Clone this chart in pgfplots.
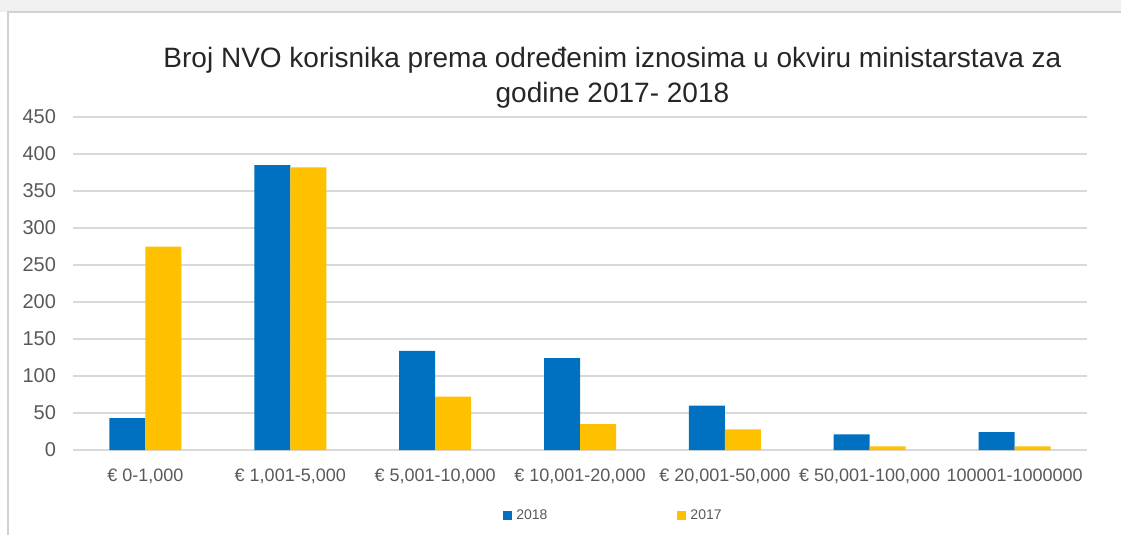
\documentclass[border=0pt]{standalone}
\usepackage{fontspec}
\setmainfont{Liberation Sans}
\usepackage{pgfplots}
\pgfplotsset{compat=1.18}
\definecolor{xlblue}{HTML}{0070C0}
\definecolor{xlgold}{HTML}{FFC000}
\definecolor{xltext}{HTML}{595959}
\definecolor{xlgrid}{HTML}{D9D9D9}
\begin{document}
\begin{tikzpicture}
\begin{axis}[
  name=ax,
  scale only axis,
  width=507pt, height=166.5pt,
  ybar=0pt, bar width=18pt,
  xmin=-0.5, xmax=6.5,
  ymin=0, ymax=450,
  ytick={0,50,...,450},
  xtick={0,...,6},
  xticklabels={{€ 0-1,000},{€ 1,001-5,000},{€ 5,001-10,000},{€ 10,001-20,000},{€ 20,001-50,000},{€ 50,001-100,000},{100001-1000000}},
  ymajorgrids, grid style={xlgrid,line width=0.8pt},
  axis line style={draw=none},
  major tick length=0pt,
  /pgf/number format/assume math mode=true,
  y tick label style={font=\fontsize{10}{12}\selectfont,text=xltext,xshift=-5pt},
  x tick label style={font=\fontsize{9}{11}\selectfont,text=xltext,yshift=-6pt},
  title={Broj NVO korisnika prema određenim iznosima u okviru ministarstava za\\godine 2017- 2018},
  title style={font=\fontsize{14}{17.5}\selectfont,text=black!85,align=center,at={(rel axis cs:0.532,1)},anchor=south,yshift=-5pt},
  legend columns=2,
  legend style={draw=none,fill=none,font=\fontsize{7}{8}\selectfont,text=xltext,at={(0.534,-0.198)},anchor=center,
    /tikz/every even column/.append style={column sep=63pt}},
  legend image code/.code={\fill[#1] (0pt,-2.2pt) rectangle (4.5pt,2.5pt);},
]
\addplot[fill=xlblue,draw=none] coordinates {(0,43) (1,385) (2,134) (3,124) (4,60) (5,21) (6,24)};
\addlegendentry{2018}
\addplot[fill=xlgold,draw=none] coordinates {(0,275) (1,382) (2,72) (3,35) (4,28) (5,5) (6,5)};
\addlegendentry{2017}
\end{axis}
\pgfresetboundingbox
\path (ax.south west) ++(-36.5pt,-42.5pt) coordinate (bl);
\path (ax.north east) ++(17pt,58.5pt) coordinate (tr);
\useasboundingbox (bl) rectangle (tr);
\fill[black!6] (bl |- tr) rectangle ([yshift=-6pt]tr);
\draw[black!18,line width=0.8pt] ([xshift=4pt]bl) -- ([xshift=4pt,yshift=-6pt]bl |- tr) -- ([yshift=-6pt]tr);
\end{tikzpicture}
\end{document}
